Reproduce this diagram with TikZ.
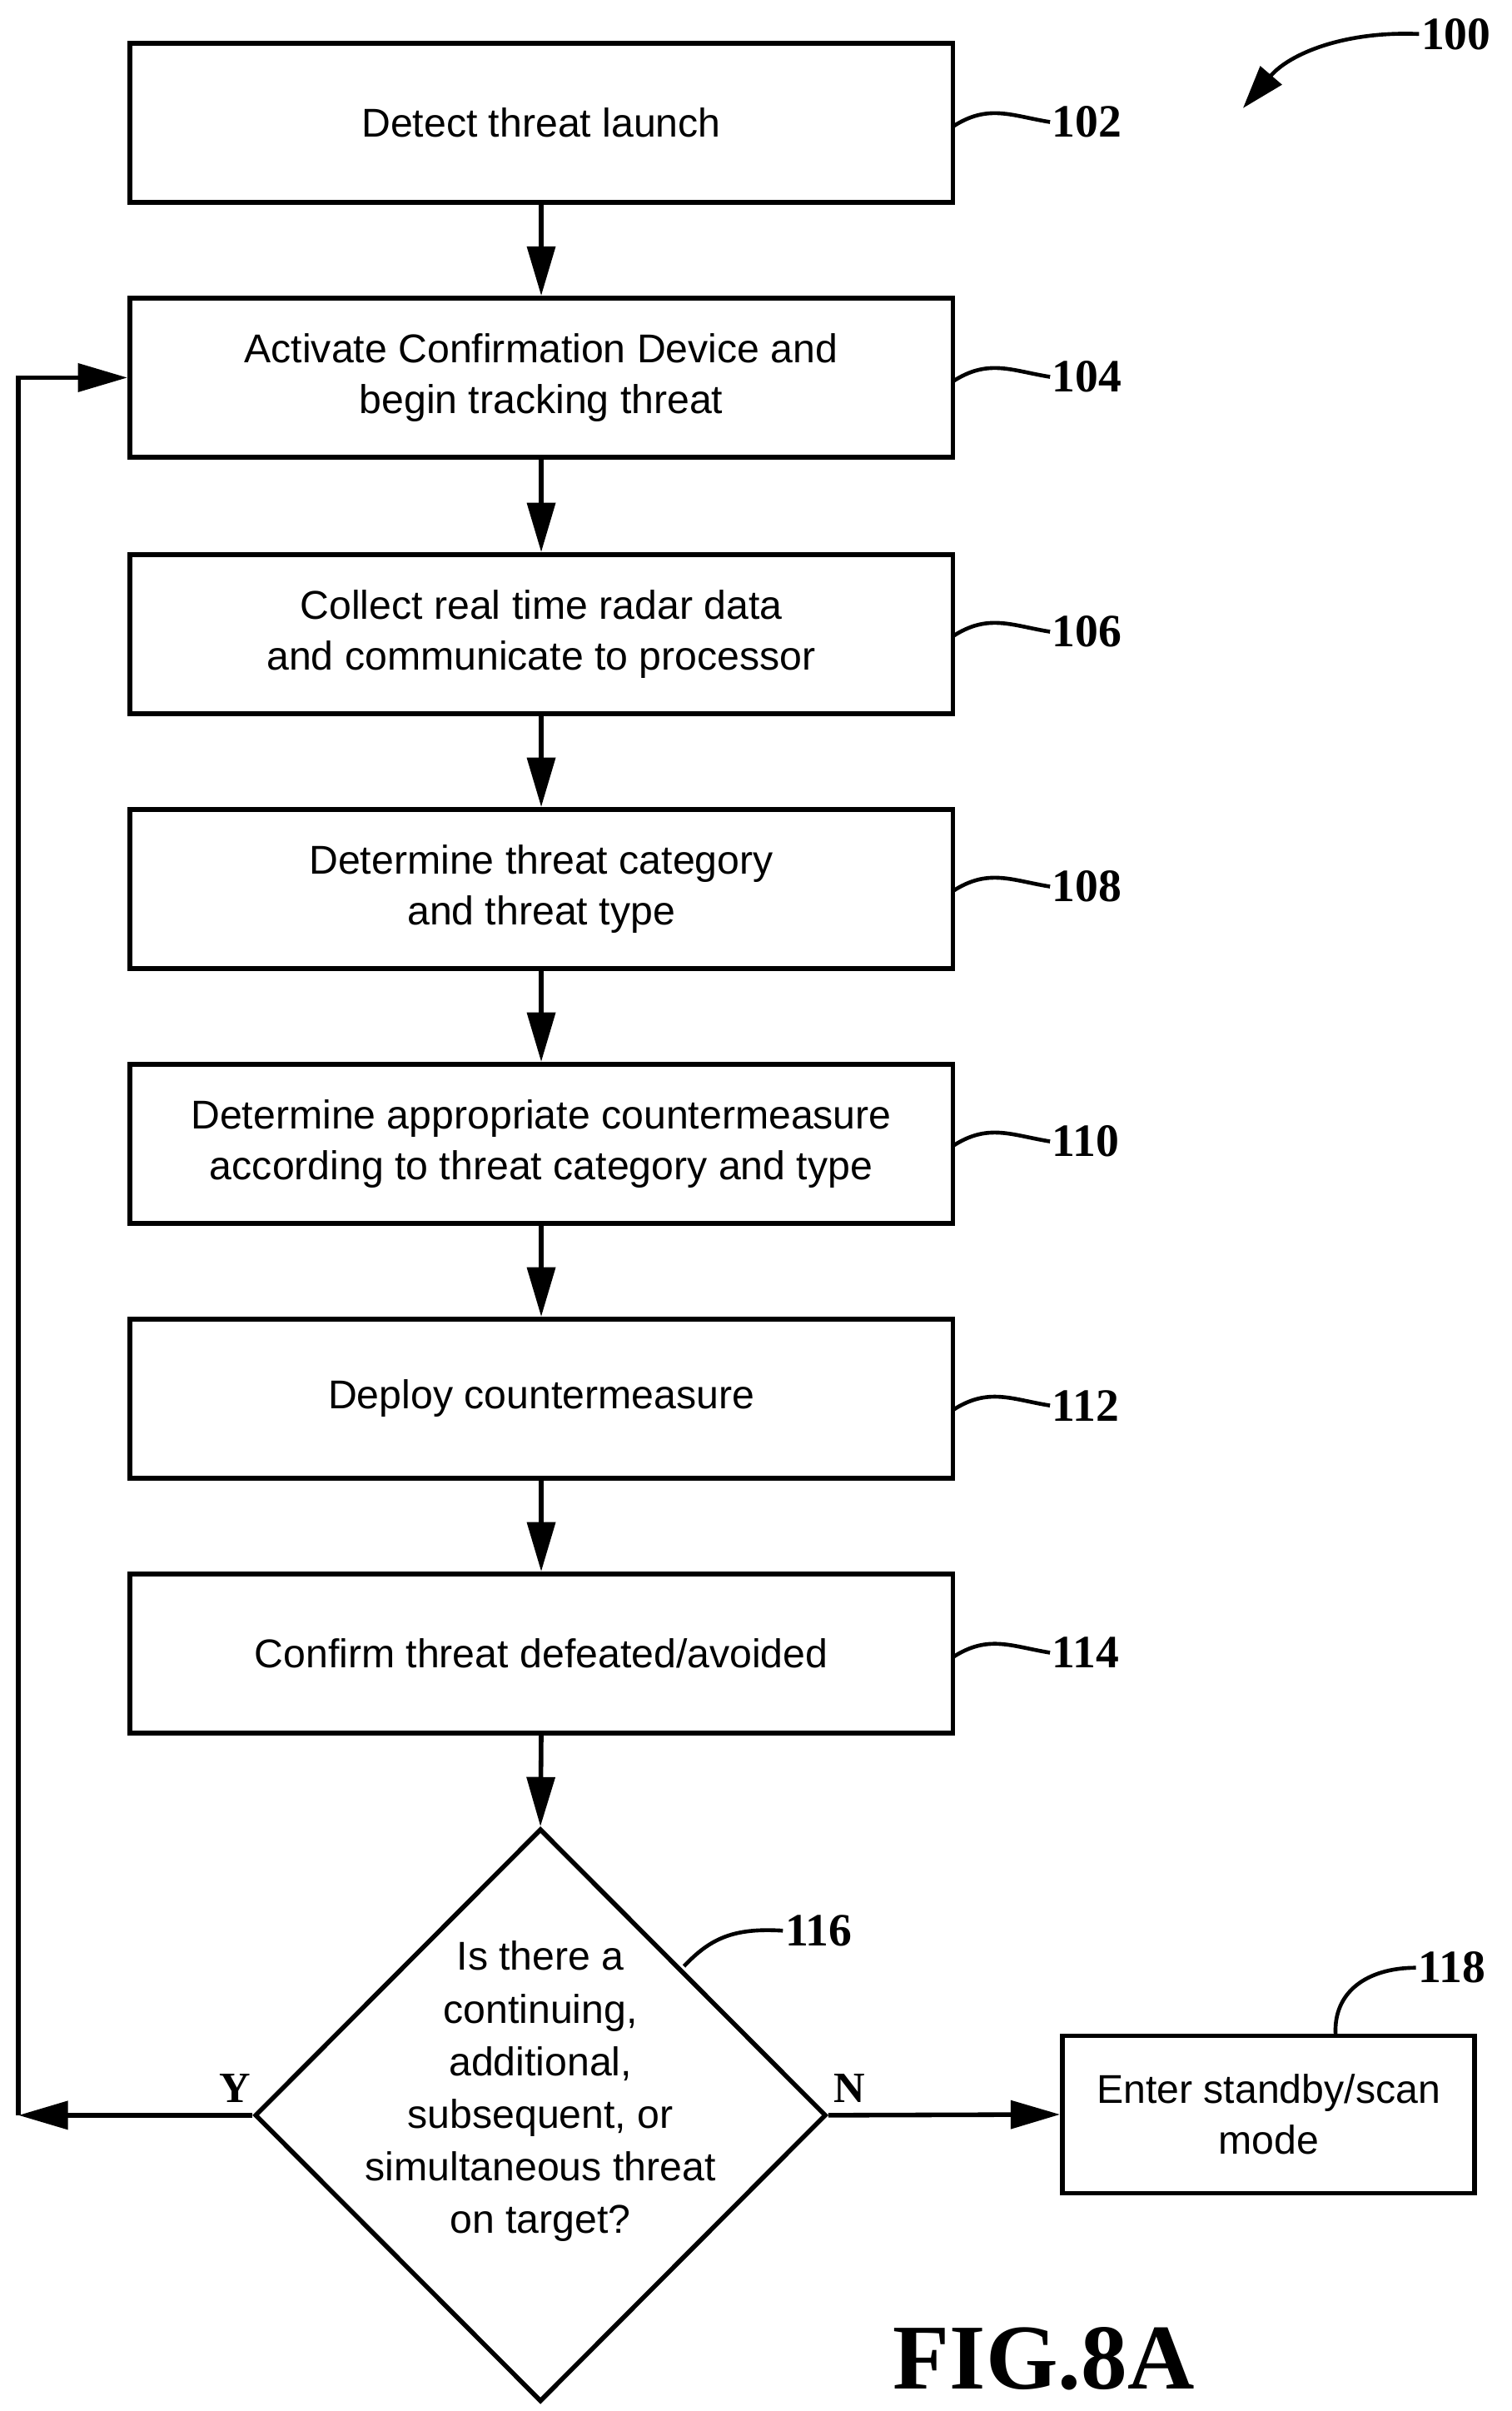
\documentclass[tikz,border=0pt]{standalone}
\usepackage{fontspec}
\setmainfont{Liberation Sans}
\newfontfamily\numf{Liberation Serif}
\usetikzlibrary{shapes.geometric,arrows.meta}
\begin{document}
\begin{tikzpicture}[x=1pt,y=-1pt,line width=3pt,
 box/.style={draw,minimum width=533pt,minimum height=103pt,align=center,font=\fontsize{26}{33}\selectfont,inner sep=0pt},
 arr/.style={-{Triangle[length=32pt,width=18pt]}},
 num/.style={font=\numf\bfseries\fontsize{30}{30}\selectfont,anchor=west,inner sep=0pt},
 lead/.style={line width=2.5pt}]
\useasboundingbox (0,0) rectangle (979,1561);
\node[box] (b102) at (350.5,79.5) {Detect threat launch};
\node[box] (b104) at (350.5,244.5) {Activate Confirmation Device and\\begin tracking threat};
\node[box] (b106) at (350.5,410.5) {Collect real time radar data\\and communicate to processor};
\node[box] (b108) at (350.5,575.5) {Determine threat category\\and threat type};
\node[box] (b110) at (350.5,740.5) {Determine appropriate countermeasure\\according to threat category and type};
\node[box] (b112) at (350.5,905.5) {Deploy countermeasure};
\node[box] (b114) at (350.5,1070.5) {Confirm threat defeated/avoided};
\node[draw,diamond,minimum width=370pt,minimum height=371pt,inner sep=0pt,align=center,font=\fontsize{26}{34}\selectfont] (d116) at (350,1369.5) {};
\node[align=center,font=\fontsize{26}{34}\selectfont] (t116) at (350,1354) {Is there a\\continuing,\\additional,\\subsequent, or\\simultaneous threat\\on target?};
\node[box,minimum width=267pt,minimum height=102pt] (b118) at (821.5,1369) {Enter standby/scan\\mode};
\foreach \a/\b in {b102/b104,b104/b106,b106/b108,b108/b110,b110/b112,b112/b114,b114/d116}
  \draw[arr] (\a.south) -- (\b.north);
\coordinate (cl) at (12,1369.5);
\coordinate (cu) at (12,244.5);
\draw[arr] (d116.west) -- (cl);
\draw[arr] (cl) -- (cu) -- (b104.west);
\draw[arr] (d116.east) -- (b118.west);
\node[font=\numf\bfseries\fontsize{28}{28}\selectfont] (ly) at (152,1352) {Y};
\node[font=\numf\bfseries\fontsize{28}{28}\selectfont] (ln) at (550,1352) {N};
\foreach \n/\y in {102/79,104/244,106/409,108/574,110/739,112/910,114/1070}{
  \node[num] (n\n) at (680,\y) {\n};
  \draw[lead] (617,\y+3) .. controls (640,\y-12) and (655,\y-4) .. (n\n.west);
}
\node[num] (n116) at (507,1250) {116};
\draw[lead] (443,1273) .. controls (460,1255) and (475,1248) .. (n116.west);
\node[num] (n118) at (917,1274) {118};
\draw[lead] (865,1318) .. controls (863,1290) and (885,1274) .. (n118.west);
\node[num] (n100) at (919,22) {100};
\draw[lead,-{Triangle[length=28pt,width=18pt]}] (n100.west) .. controls (870,20) and (835,35) .. (805,70);
\node[font=\numf\bfseries\fontsize{60}{60}\selectfont] (fig) at (676,1527) {FIG.8A};
\end{tikzpicture}
\end{document}
